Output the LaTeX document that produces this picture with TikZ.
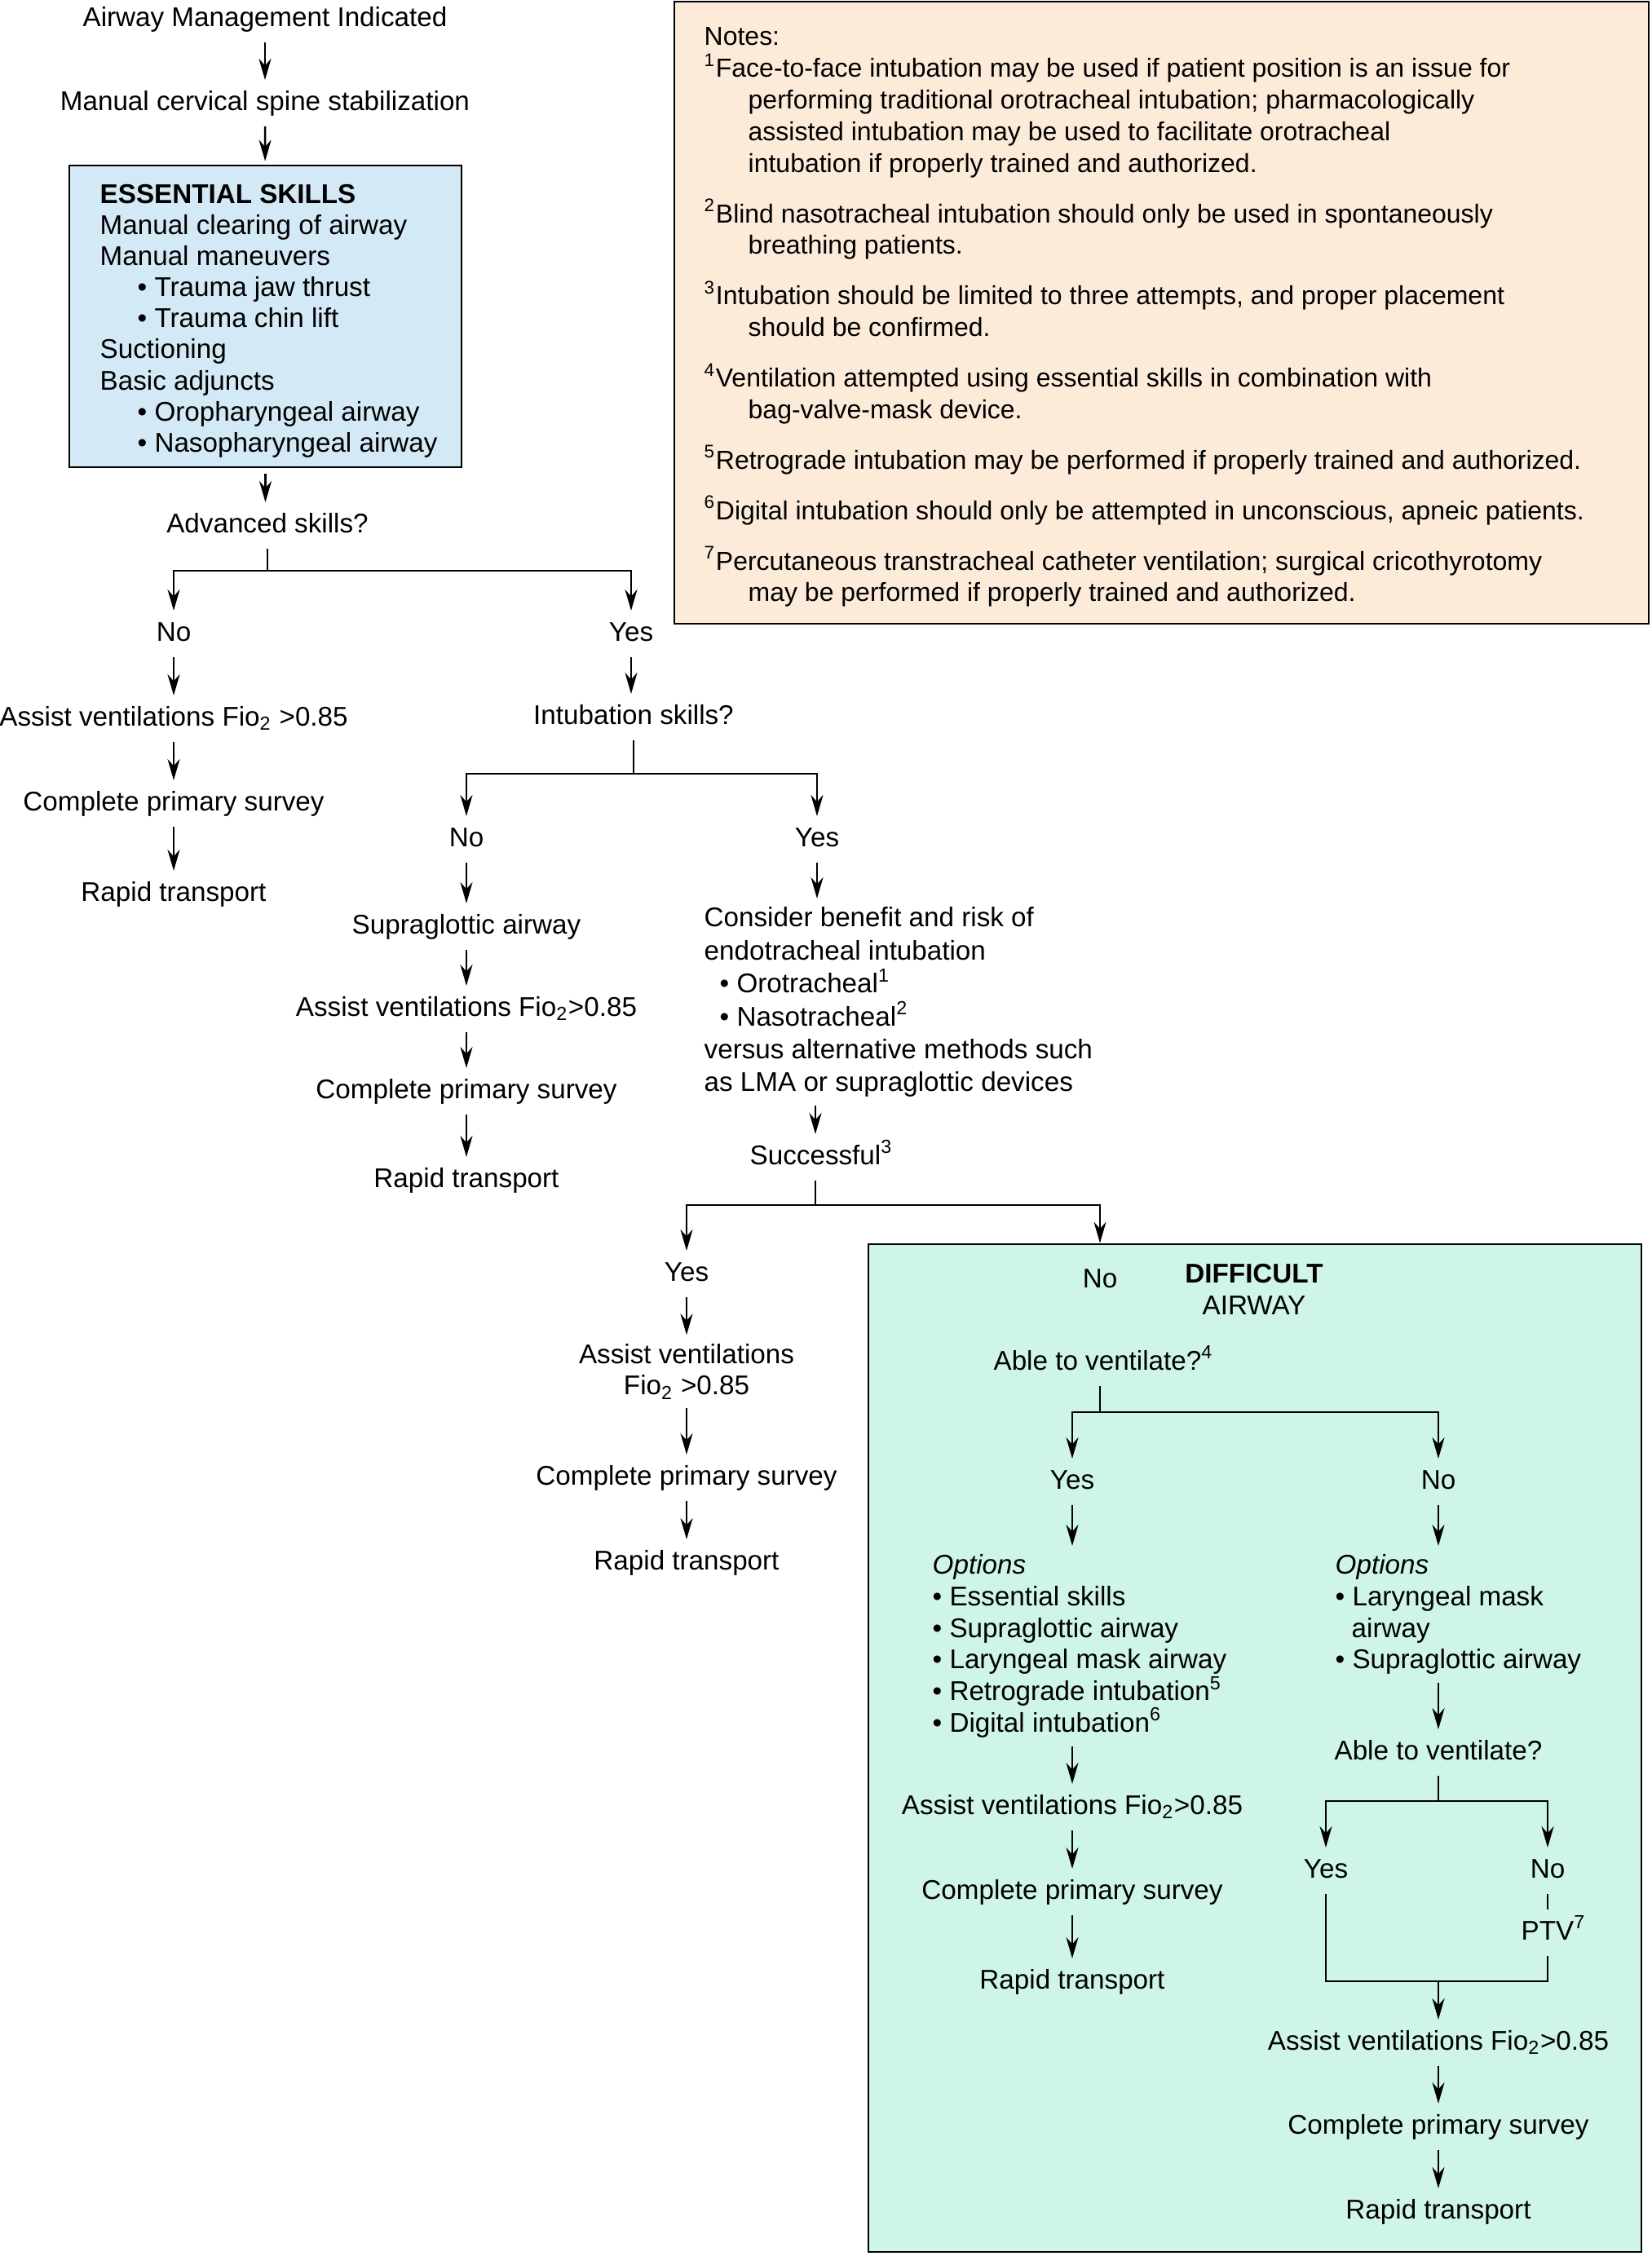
\documentclass[tikz,border=0pt]{standalone}
\usepackage{fontspec}
\setmainfont{Liberation Sans}
\usetikzlibrary{arrows.meta}
\definecolor{azulcaja}{HTML}{D3E9F6}
\definecolor{notas}{HTML}{FDEBD9}
\definecolor{menta}{HTML}{CFF4EA}
\newcommand{\bul}{\textbullet\ }

\begin{document}
\begin{tikzpicture}[
    font=\fontsize{9.45}{11}\selectfont,
    paso/.style={inner xsep=0pt, inner ysep=0.12cm, text height=7pt, text depth=2pt, yshift=-0.045cm},
    bloque/.style={inner xsep=0pt, inner ysep=0.1cm, align=left, anchor=north west},
    texto/.style={inner sep=0pt, align=left, anchor=north west},
    caja/.style={draw, line width=0.8pt},
    flecha/.style={-{Stealth[length=2.6mm,width=1.5mm]}, line width=0.7pt},
    linea/.style={line width=0.7pt}
  ]
  \useasboundingbox (0,0) rectangle (20.25,-27.67);

  % Cajas
  \node[caja, fill=azulcaja, minimum width=4.81cm, minimum height=3.70cm] (ess) at (3.255,-3.88) {};
  \node[texto, font=\fontsize{9.45}{10.84}\selectfont] (esstxt) at (1.22,-2.255)
    {\textbf{ESSENTIAL SKILLS}\\
     Manual clearing of airway\\
     Manual maneuvers\\
     \hspace*{0.46cm}\bul Trauma jaw thrust\\
     \hspace*{0.46cm}\bul Trauma chin lift\\
     Suctioning\\
     Basic adjuncts\\
     \hspace*{0.46cm}\bul Oropharyngeal airway\\
     \hspace*{0.46cm}\bul Nasopharyngeal airway};
  \node[caja, fill=notas, minimum width=11.95cm, minimum height=7.63cm] (notas) at (14.245,-3.835) {};
  \node[texto, font=\fontsize{9.1}{11.06}\selectfont] (notastxt) at (8.63,-0.33)
    {Notes:\\
     \textsuperscript{1}Face-to-face intubation may be used if patient position is an issue for\\
     \hspace*{0.54cm}performing traditional orotracheal intubation; pharmacologically\\
     \hspace*{0.54cm}assisted intubation may be used to facilitate orotracheal\\
     \hspace*{0.54cm}intubation if properly trained and authorized.\\[0.23cm]
     \textsuperscript{2}Blind nasotracheal intubation should only be used in spontaneously\\
     \hspace*{0.54cm}breathing patients.\\[0.23cm]
     \textsuperscript{3}Intubation should be limited to three attempts, and proper placement\\
     \hspace*{0.54cm}should be confirmed.\\[0.23cm]
     \textsuperscript{4}Ventilation attempted using essential skills in combination with\\
     \hspace*{0.54cm}bag-valve-mask device.\\[0.23cm]
     \textsuperscript{5}Retrograde intubation may be performed if properly trained and authorized.\\[0.23cm]
     \textsuperscript{6}Digital intubation should only be attempted in unconscious, apneic patients.\\[0.23cm]
     \textsuperscript{7}Percutaneous transtracheal catheter ventilation; surgical cricothyrotomy\\
     \hspace*{0.54cm}may be performed if properly trained and authorized.};
  \node[caja, fill=menta, minimum width=9.48cm, minimum height=12.36cm] (dabox) at (15.39,-21.44) {};

  % Columna izquierda
  \node[paso] (aind) at (3.25,-0.19) {Airway Management Indicated};
  \node[paso] (cspine) at (3.25,-1.22) {Manual cervical spine stabilization};
  \node[paso] (adv) at (3.28,-6.40) {Advanced skills?};
  \node[paso] (no1) at (2.13,-7.73) {No};
  \node[paso] (av1) at (2.13,-8.77) {Assist ventilations Fio\textsubscript{2} >0.85};
  \node[paso] (cps1) at (2.13,-9.81) {Complete primary survey};
  \node[paso] (rt1) at (2.13,-10.92) {Rapid transport};
  \node[paso] (yes1) at (7.74,-7.73) {Yes};
  \node[paso] (int) at (7.77,-8.75) {Intubation skills?};
  \coordinate (j1) at (3.28,-7.00);
  \coordinate (j2) at (7.77,-9.49);

  \draw[flecha] (aind) -- (cspine);
  \draw[flecha, shorten >=0.04cm] (cspine) -- (ess);
  \draw[flecha, shorten <=0.07cm] (ess) -- (ess |- adv.north);
  \draw[linea] (adv) -- (j1);
  \draw[flecha] (j1) -| (no1);
  \draw[flecha] (j1) -| (yes1);
  \draw[flecha] (no1) -- (av1);
  \draw[flecha] (av1) -- (cps1);
  \draw[flecha] (cps1) -- (rt1);
  \draw[flecha] (yes1) -- (yes1 |- int.north);
  \draw[linea] (int) -- (j2);

  % Intubacion: no / yes
  \node[paso] (no2) at (5.72,-10.25) {No};
  \node[paso] (sga) at (5.72,-11.32) {Supraglottic airway};
  \node[paso] (av2) at (5.72,-12.33) {Assist ventilations Fio\textsubscript{2}>0.85};
  \node[paso] (cps2) at (5.72,-13.34) {Complete primary survey};
  \node[paso] (rt2) at (5.72,-14.43) {Rapid transport};
  \node[paso] (yes2) at (10.02,-10.25) {Yes};
  \node[bloque, font=\fontsize{9.45}{11.5}\selectfont] (cons) at (8.63,-11.02)
    {Consider benefit and risk of\\
     endotracheal intubation\\
     \hspace*{0.19cm}\bul Orotracheal\textsuperscript{1}\\
     \hspace*{0.19cm}\bul Nasotracheal\textsuperscript{2}\\
     versus alternative methods such\\
     as LMA or supraglottic devices};
  \node[paso] (succ) at (10.00,-14.15) {Successful\rlap{\textsuperscript{3}}};
  \coordinate (j3) at (10.00,-14.78);

  \draw[flecha] (j2) -| (no2);
  \draw[flecha] (j2) -| (yes2);
  \draw[flecha] (no2) -- (sga);
  \draw[flecha] (sga) -- (av2);
  \draw[flecha] (av2) -- (cps2);
  \draw[flecha] (cps2) -- (rt2);
  \draw[flecha] (yes2) -- (yes2 |- cons.north);
  \draw[flecha] (cons.south -| succ) -- (succ);
  \draw[linea] (succ) -- (j3);

  % Successful: yes
  \node[paso] (yes3) at (8.42,-15.58) {Yes};
  \node[align=center, inner sep=0pt] (av3) at (8.42,-16.82) {Assist ventilations\\ Fio\textsubscript{2} >0.85};
  \node[paso] (cps3) at (8.42,-18.08) {Complete primary survey};
  \node[paso] (rt3) at (8.42,-19.12) {Rapid transport};

  \draw[flecha] (j3) -| (yes3);
  \draw[flecha, shorten >=0.1cm] (yes3) -- (av3);
  \draw[flecha, shorten <=0.1cm] (av3) -- (cps3);
  \draw[flecha] (cps3) -- (rt3);

  % Via aerea dificil
  \node[paso] (no3) at (13.49,-15.66) {No};
  \node[align=center, inner sep=0pt] (dtit) at (15.38,-15.815) {\textbf{DIFFICULT}\\ AIRWAY};
  \node[paso] (able1) at (13.46,-16.67) {Able to ventilate?\rlap{\textsuperscript{4}}};
  \coordinate (j4) at (13.49,-17.32);
  \node[paso] (yes4) at (13.15,-18.13) {Yes};
  \node[paso] (no4) at (17.64,-18.13) {No};
  \node[bloque] (optL) at (11.43,-18.96)
    {\textit{Options}\\
     \bul Essential skills\\
     \bul Supraglottic airway\\
     \bul Laryngeal mask airway\\
     \bul Retrograde intubation\textsuperscript{5}\\
     \bul Digital intubation\textsuperscript{6}};
  \node[paso] (av4) at (13.15,-22.12) {Assist ventilations Fio\textsubscript{2}>0.85};
  \node[paso] (cps4) at (13.15,-23.16) {Complete primary survey};
  \node[paso] (rt4) at (13.15,-24.26) {Rapid transport};
  \node[bloque] (optR) at (16.37,-18.96)
    {\textit{Options}\\
     \bul Laryngeal mask\\
     \hspace*{0.2cm}airway\\
     \bul Supraglottic airway};
  \node[paso] (able2) at (17.64,-21.45) {Able to ventilate?};
  \coordinate (j5) at (17.64,-22.09);
  \node[paso] (yes5) at (16.26,-22.90) {Yes};
  \node[paso] (no5) at (18.98,-22.90) {No};
  \node[paso] (ptv) at (18.98,-23.66) {PTV\rlap{\textsuperscript{7}}};
  \coordinate (jr) at (18.98,-24.30);
  \coordinate (jm) at (17.64,-24.30);
  \node[paso] (av5) at (17.64,-25.01) {Assist ventilations Fio\textsubscript{2}>0.85};
  \node[paso] (cps5) at (17.64,-26.04) {Complete primary survey};
  \node[paso] (rt5) at (17.64,-27.08) {Rapid transport};

  \draw[flecha] (j3) -| (no3 |- dabox.north);
  \draw[linea] (able1.south -| j4) -- (j4);
  \draw[flecha] (j4) -| (yes4);
  \draw[flecha] (j4) -| (no4);
  \draw[flecha] (yes4) -- (yes4 |- optL.north);
  \draw[flecha] (optL.south -| yes4) -- (av4);
  \draw[flecha] (av4) -- (cps4);
  \draw[flecha] (cps4) -- (rt4);
  \draw[flecha] (no4) -- (no4 |- optR.north);
  \draw[flecha] (optR.south -| no4) -- (able2);
  \draw[linea] (able2) -- (j5);
  \draw[flecha] (j5) -| (yes5);
  \draw[flecha] (j5) -| (no5);
  \draw[linea] (no5) -- (ptv);
  \draw[linea] (yes5) |- (jr) -- (ptv);
  \draw[flecha] (jm) -- (av5);
  \draw[flecha] (av5) -- (cps5);
  \draw[flecha] (cps5) -- (rt5);
\end{tikzpicture}
\end{document}
